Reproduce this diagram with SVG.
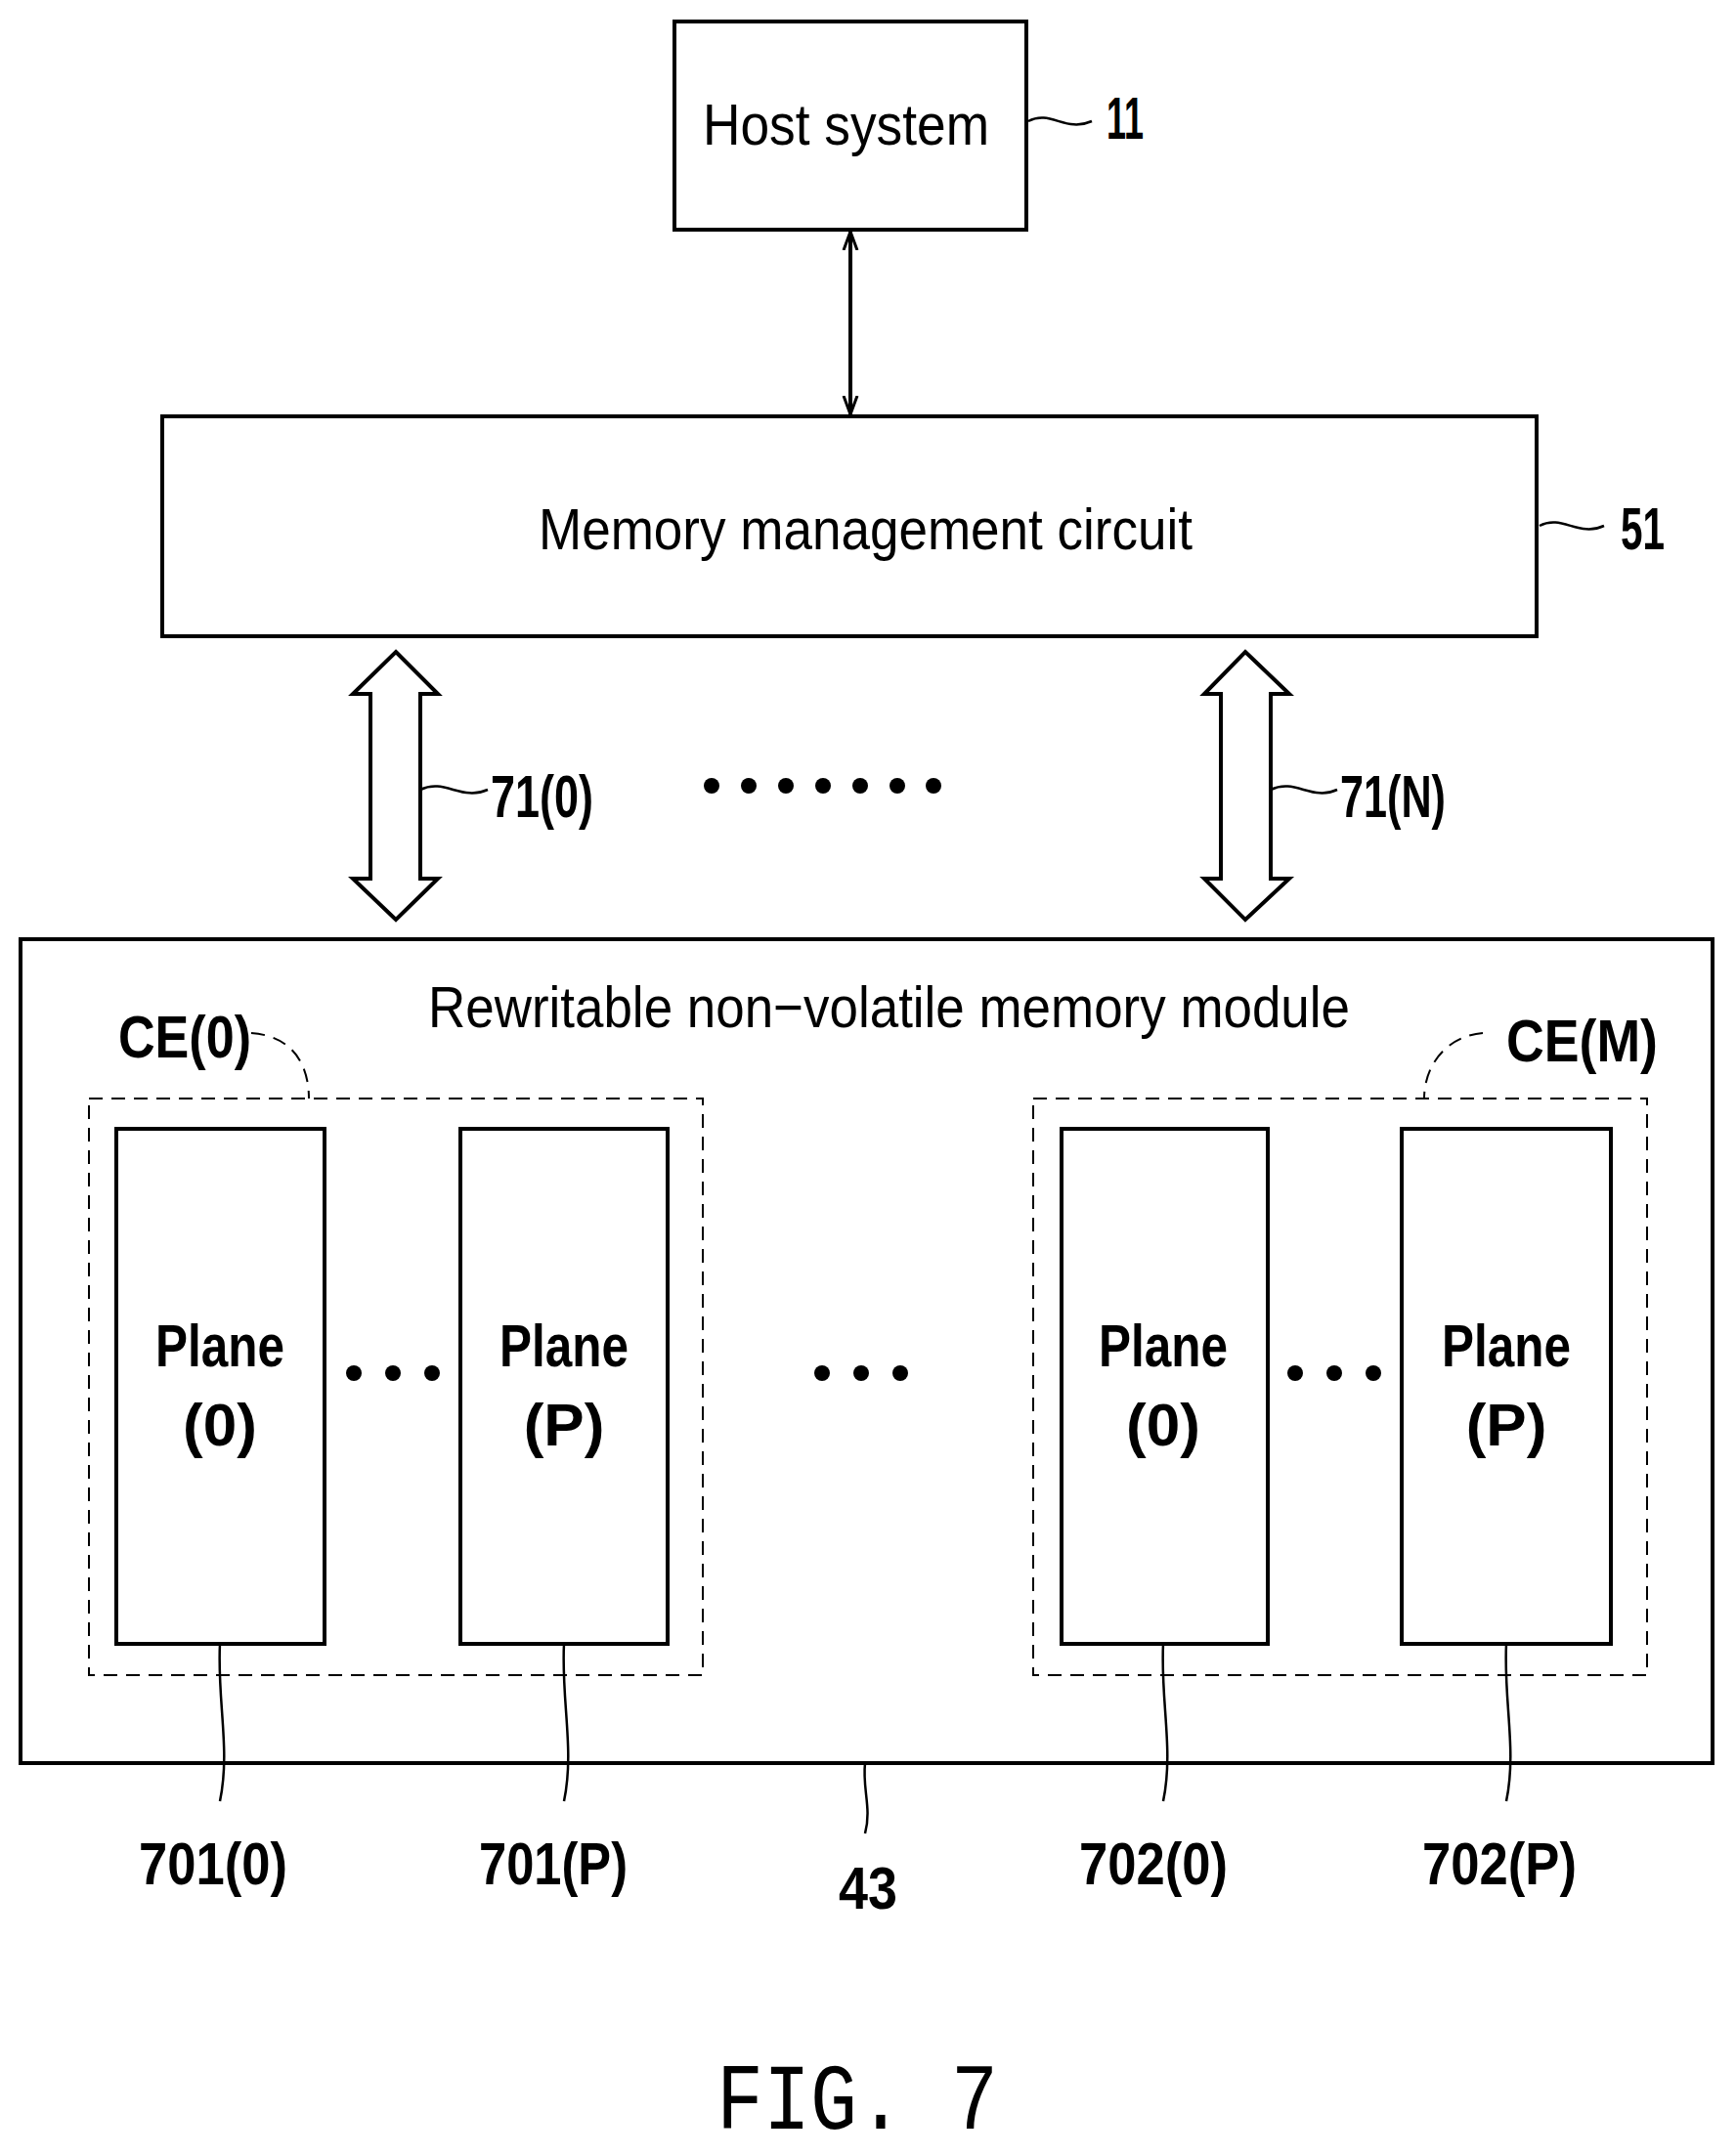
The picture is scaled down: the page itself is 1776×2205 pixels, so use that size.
<svg xmlns="http://www.w3.org/2000/svg" width="1776" height="2205" viewBox="0 0 1776 2205">
<style>
.box{fill:#fff;stroke:#000;stroke-width:4}
.dash{fill:none;stroke:#000;stroke-width:2;stroke-dasharray:14 9}
.ln{fill:none;stroke:#000;stroke-width:2.5}
.t{font-family:"Liberation Sans",Arial,sans-serif;font-size:60px;fill:#000}
.b{font-family:"Liberation Sans",Arial,sans-serif;font-size:62px;font-weight:bold;fill:#000}
</style>
<defs>
<marker id="ah" viewBox="0 0 20 20" refX="19" refY="10" markerWidth="20" markerHeight="20" markerUnits="userSpaceOnUse" orient="auto-start-reverse">
<path d="M0,3 L19,10 L0,17" fill="none" stroke="#000" stroke-width="3"/>
</marker>
</defs>
<rect width="1776" height="2205" fill="#fff"/>
<g id="host"><rect class="box" x="690" y="22" width="360" height="213"/>
<text class="t" x="719" y="148" textLength="293" lengthAdjust="spacingAndGlyphs">Host system</text></g>
<text class="b" x="1132" y="142" textLength="38" lengthAdjust="spacingAndGlyphs">11</text>
<g id="mmc"><rect class="box" x="166" y="426" width="1406" height="225"/>
<text class="t" x="551" y="562" textLength="669" lengthAdjust="spacingAndGlyphs">Memory management circuit</text></g>
<text class="b" x="1658" y="562" textLength="45" lengthAdjust="spacingAndGlyphs">51</text>
<text class="b" x="502" y="836" textLength="105" lengthAdjust="spacingAndGlyphs">71(0)</text>
<text class="b" x="1371" y="836" textLength="108" lengthAdjust="spacingAndGlyphs">71(N)</text>
<g id="busdots"><circle cx="728" cy="804" r="8"/><circle cx="766" cy="804" r="8"/><circle cx="804" cy="804" r="8"/><circle cx="842" cy="804" r="8"/><circle cx="880" cy="804" r="8"/><circle cx="918" cy="804" r="8"/><circle cx="955" cy="804" r="8"/></g>
<g id="module"><rect class="box" x="21" y="961" width="1731" height="843"/>
<text class="t" x="438" y="1051" textLength="943" lengthAdjust="spacingAndGlyphs">Rewritable non−volatile memory module</text></g>
<g id="ce0"><rect class="dash" x="91" y="1124" width="628" height="590"/>
<text class="b" x="121" y="1082" textLength="136" lengthAdjust="spacingAndGlyphs">CE(0)</text></g>
<g id="ceM"><rect class="dash" x="1057" y="1124" width="628" height="590"/>
<text class="b" x="1541" y="1086" textLength="155" lengthAdjust="spacingAndGlyphs">CE(M)</text></g>
<g id="p1"><rect class="box" x="119" y="1155" width="213" height="527"/>
<text class="b" x="225" y="1398" text-anchor="middle" textLength="132" lengthAdjust="spacingAndGlyphs">Plane</text><text class="b" x="225" y="1479" text-anchor="middle">(0)</text></g>
<g id="p2"><rect class="box" x="471" y="1155" width="212" height="527"/>
<text class="b" x="577" y="1398" text-anchor="middle" textLength="132" lengthAdjust="spacingAndGlyphs">Plane</text><text class="b" x="577" y="1479" text-anchor="middle">(P)</text></g>
<g id="p3"><rect class="box" x="1086" y="1155" width="211" height="527"/>
<text class="b" x="1190" y="1398" text-anchor="middle" textLength="132" lengthAdjust="spacingAndGlyphs">Plane</text><text class="b" x="1190" y="1479" text-anchor="middle">(0)</text></g>
<g id="p4"><rect class="box" x="1434" y="1155" width="214" height="527"/>
<text class="b" x="1541" y="1398" text-anchor="middle" textLength="132" lengthAdjust="spacingAndGlyphs">Plane</text><text class="b" x="1541" y="1479" text-anchor="middle">(P)</text></g>
<g id="dots"><circle cx="362" cy="1405" r="8"/><circle cx="402" cy="1405" r="8"/><circle cx="442" cy="1405" r="8"/>
<circle cx="841" cy="1405" r="8"/><circle cx="881" cy="1405" r="8"/><circle cx="921" cy="1405" r="8"/>
<circle cx="1325" cy="1405" r="8"/><circle cx="1365" cy="1405" r="8"/><circle cx="1405" cy="1405" r="8"/></g>
<g id="connectors">
<line x1="870" y1="237" x2="870" y2="424" stroke="#000" stroke-width="4" marker-start="url(#ah)" marker-end="url(#ah)"/>
<path class="box" d="M405,667 L448,710 L430,710 L430,899 L448,899 L405,941 L361,899 L379,899 L379,710 L361,710 Z"/>
<path class="box" d="M1274,667 L1319,710 L1300,710 L1300,899 L1319,899 L1274,941 L1232,899 L1249,899 L1249,710 L1232,710 Z"/>
<path class="ln" d="M1052,124 C1075,112 1090,136 1117,124"/>
<path class="ln" d="M1575,538 C1598,526 1615,550 1641,538"/>
<path class="ln" d="M430,808 C455,796 472,820 499,808"/>
<path class="ln" d="M1300,808 C1325,796 1342,820 1368,808"/>
<path class="dash" d="M257,1057 C300,1060 316,1090 316,1124"/>
<path class="dash" d="M1517,1057 C1480,1060 1457,1090 1457,1124"/>
<path class="ln" d="M225,1682 C222,1740 236,1790 225,1843"/>
<path class="ln" d="M577,1682 C574,1740 588,1790 577,1843"/>
<path class="ln" d="M885,1804 C882,1830 892,1850 885,1876"/>
<path class="ln" d="M1190,1682 C1187,1740 1201,1790 1190,1843"/>
<path class="ln" d="M1541,1682 C1538,1740 1552,1790 1541,1843"/>
</g>
<g id="labels">
<text class="b" x="218" y="1928" text-anchor="middle" textLength="152" lengthAdjust="spacingAndGlyphs">701(0)</text>
<text class="b" x="566" y="1928" text-anchor="middle" textLength="152" lengthAdjust="spacingAndGlyphs">701(P)</text>
<text class="b" x="888" y="1953" text-anchor="middle" textLength="60" lengthAdjust="spacingAndGlyphs">43</text>
<text class="b" x="1180" y="1928" text-anchor="middle" textLength="152" lengthAdjust="spacingAndGlyphs">702(0)</text>
<text class="b" x="1534" y="1928" text-anchor="middle" textLength="158" lengthAdjust="spacingAndGlyphs">702(P)</text>
<text x="733" y="2178" font-family="'Liberation Mono',monospace" font-size="96" textLength="288" lengthAdjust="spacingAndGlyphs">FIG. 7</text>
</g>
</svg>
